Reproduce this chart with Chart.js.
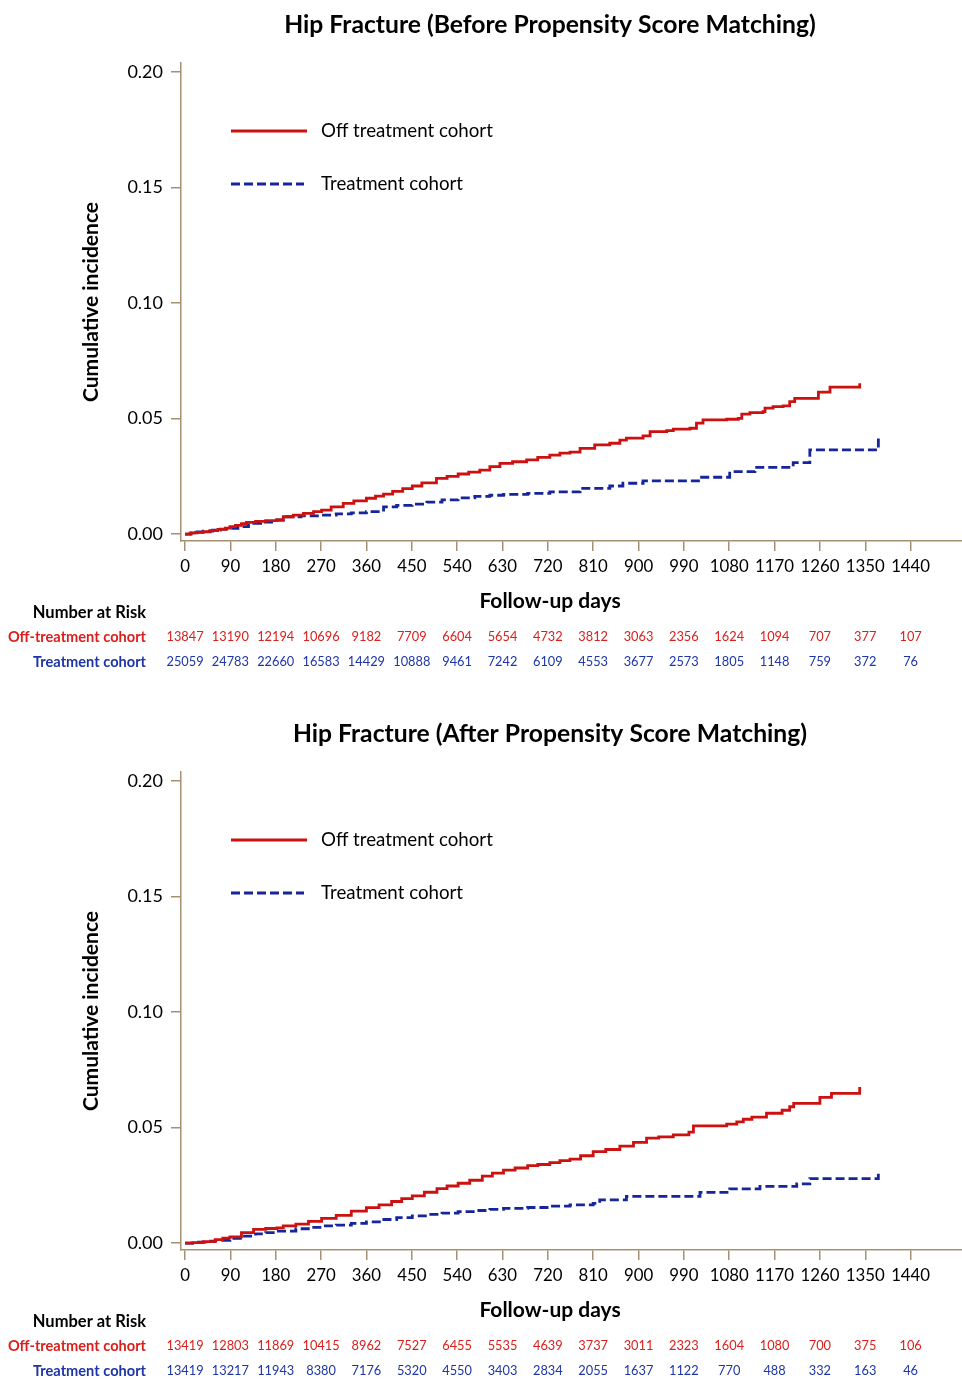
<!DOCTYPE html>
<html><head><meta charset="utf-8">
<script src="https://cdn.jsdelivr.net/npm/chart.js@4.4.0/dist/chart.umd.min.js"></script>
<style>
html,body{margin:0;padding:0;background:#fff;}
#wrap{position:relative;width:962px;height:1379px;background:#fff;}
.box{position:absolute;left:0;width:962px;height:670px;}
</style></head><body>
<div id="wrap">
<div class="box" style="top:0"><canvas id="c1"></canvas></div>
<div class="box" style="top:709px"><canvas id="c2"></canvas></div>
</div>
<script>
// ---------- data ----------
const dayTicks = [0,90,180,270,360,450,540,630,720,810,900,990,1080,1170,1260,1350,1440];
const yTicks = [0, 0.05, 0.10, 0.15, 0.20];
const seriesNames = ['Off treatment cohort', 'Treatment cohort'];
const riskRowLabels = ['Off-treatment cohort', 'Treatment cohort'];
const riskHeader = 'Number at Risk';
const xTitle = 'Follow-up days';
const yTitle = 'Cumulative incidence';
const titleBefore = 'Hip Fracture (Before Propensity Score Matching)';
const titleAfter = 'Hip Fracture (After Propensity Score Matching)';

// [day, cumulative incidence]
const offBefore = [[0,0],[10,0.0004],[20,0.0007],[36,0.0010],[50,0.0015],[65,0.0020],[80,0.0026],[89,0.0032],[100,0.0038],[112,0.0045],[122,0.0051],[140,0.0055],[160,0.0058],[182,0.0061],[195,0.0075],[215,0.0082],[235,0.0090],[255,0.0097],[271,0.0104],[290,0.0118],[314,0.0133],[335,0.0144],[360,0.0155],[378,0.0164],[394,0.0173],[412,0.0185],[432,0.0197],[451,0.0208],[470,0.0222],[499,0.0241],[520,0.0250],[542,0.0260],[563,0.0268],[585,0.0277],[605,0.0292],[625,0.0306],[650,0.0313],[678,0.0321],[700,0.0332],[724,0.0342],[744,0.0350],[764,0.0355],[784,0.0371],[813,0.0386],[843,0.0393],[863,0.0407],[876,0.0415],[909,0.0425],[923,0.0443],[956,0.0448],[969,0.0454],[1002,0.0458],[1015,0.0480],[1028,0.0494],[1075,0.0497],[1098,0.0501],[1105,0.0519],[1121,0.0526],[1147,0.0530],[1151,0.0545],[1167,0.0552],[1187,0.0555],[1200,0.0573],[1210,0.0587],[1257,0.0614],[1280,0.0636],[1339,0.0636],[1339,0.0653]];
const onBefore = [[0,0],[12,0.0005],[24,0.0009],[36,0.0013],[55,0.0017],[70,0.0021],[89,0.0025],[105,0.0032],[126,0.0046],[150,0.0052],[182,0.0061],[195,0.0075],[230,0.0079],[271,0.0082],[300,0.0087],[330,0.0092],[360,0.0097],[394,0.0118],[420,0.0124],[451,0.0130],[480,0.0138],[510,0.0148],[542,0.0157],[575,0.0163],[605,0.0168],[632,0.0172],[680,0.0176],[724,0.0183],[784,0.0198],[843,0.0208],[869,0.0220],[909,0.0230],[1022,0.0246],[1081,0.0270],[1131,0.0289],[1207,0.0309],[1240,0.0364],[1376,0.0364],[1376,0.0422]];
const offAfter = [[0,0],[15,0.0002],[36,0.0006],[60,0.0015],[75,0.0021],[89,0.0027],[112,0.0045],[136,0.0059],[160,0.0063],[182,0.0066],[195,0.0074],[220,0.0082],[245,0.0094],[271,0.0107],[300,0.0120],[330,0.0138],[360,0.0153],[385,0.0165],[410,0.0180],[430,0.0192],[451,0.0204],[475,0.0220],[500,0.0236],[520,0.0247],[542,0.0259],[565,0.0272],[590,0.0290],[610,0.0303],[632,0.0316],[655,0.0325],[680,0.0335],[700,0.0340],[724,0.0348],[744,0.0357],[764,0.0363],[785,0.0378],[810,0.0396],[835,0.0405],[863,0.0420],[890,0.0436],[916,0.0454],[940,0.0460],[969,0.0468],[1000,0.0480],[1009,0.0507],[1075,0.0515],[1095,0.0525],[1108,0.0536],[1125,0.0545],[1154,0.0562],[1185,0.0575],[1200,0.0590],[1208,0.0605],[1260,0.0631],[1283,0.0648],[1339,0.0648],[1339,0.0675]];
const onAfter = [[0,0],[20,0.0004],[40,0.0008],[60,0.0012],[89,0.0020],[110,0.0030],[140,0.0040],[160,0.0045],[182,0.0052],[220,0.0062],[250,0.0068],[271,0.0074],[300,0.0078],[330,0.0085],[360,0.0092],[390,0.0102],[420,0.0110],[451,0.0118],[480,0.0124],[510,0.0130],[542,0.0136],[575,0.0141],[605,0.0146],[632,0.0150],[680,0.0154],[724,0.0160],[764,0.0165],[810,0.0172],[823,0.0187],[876,0.0202],[1022,0.0219],[1081,0.0235],[1141,0.0245],[1214,0.0256],[1240,0.0279],[1376,0.0279],[1376,0.0300]];

const riskOffBefore = [13847,13190,12194,10696,9182,7709,6604,5654,4732,3812,3063,2356,1624,1094,707,377,107];
const riskOnBefore  = [25059,24783,22660,16583,14429,10888,9461,7242,6109,4553,3677,2573,1805,1148,759,372,76];
const riskOffAfter  = [13419,12803,11869,10415,8962,7527,6455,5535,4639,3737,3011,2323,1604,1080,700,375,106];
const riskOnAfter   = [13419,13217,11943,8380,7176,5320,4550,3403,2834,2055,1637,1122,770,488,332,163,46];

// ---------- style ----------
const FONT = 'Lato, "Open Sans", sans-serif';
const RED = '#cc1111';
const BLUE = '#16259a';
const RED_TXT = '#d9201c';
const BLUE_TXT = '#1d35a6';
const TAN = '#a39172';

function decorPlugin(cfg) {
  return {
    id: 'decor',
    afterDraw(chart) {
      const ctx = chart.ctx;
      const xs = chart.scales.x;
      const ds = chart.data.datasets;
      ctx.save();
      ctx.textBaseline = 'middle';
      ctx.fillStyle = '#000';
      // chart title
      ctx.textAlign = 'center';
      ctx.font = 'bold 24.7px ' + FONT;
      ctx.fillText(cfg.title, 550, 25);
      // x-axis title
      ctx.font = 'bold 21px ' + FONT;
      ctx.fillText(xTitle, 550, 601);
      // legend
      const legY = [131, 184];
      ds.forEach((d, i) => {
        ctx.save();
        ctx.strokeStyle = d.borderColor;
        ctx.lineWidth = d.borderWidth;
        ctx.setLineDash(d.borderDash || []);
        ctx.beginPath();
        ctx.moveTo(231, legY[i]);
        ctx.lineTo(i === 0 ? 307 : 304, legY[i]);
        ctx.stroke();
        ctx.restore();
        ctx.fillStyle = '#000';
        ctx.textAlign = 'left';
        ctx.font = '18.7px ' + FONT;
        ctx.fillText(d.label, 321, legY[i]);
      });
      // number at risk table
      ctx.textAlign = 'right';
      ctx.font = 'bold 16.5px ' + FONT;
      ctx.fillStyle = '#000';
      ctx.fillText(riskHeader, 146, 613);
      ctx.font = 'bold 14.6px ' + FONT;
      ctx.fillStyle = RED_TXT;
      ctx.fillText(riskRowLabels[0], 146, 637);
      ctx.fillStyle = BLUE_TXT;
      ctx.fillText(riskRowLabels[1], 146, 662);
      ctx.textAlign = 'center';
      ctx.font = '12.8px ' + FONT;
      dayTicks.forEach((d, i) => {
        const px = xs.getPixelForValue(d);
        ctx.fillStyle = RED_TXT;
        ctx.fillText(String(cfg.riskOff[i]), px, 637);
        ctx.fillStyle = BLUE_TXT;
        ctx.fillText(String(cfg.riskOn[i]), px, 662);
      });
      ctx.restore();
    }
  };
}

function axisCommon() {
  return {
    grid: { display: true, drawOnChartArea: false, drawTicks: true, tickLength: 10, color: TAN, lineWidth: 1.5 },
    border: { display: true, color: TAN, width: 1.5 }
  };
}

function makeChart(id, cfg) {
  const toPts = arr => arr.map(([d, v]) => ({ x: d, y: v }));
  return new Chart(document.getElementById(id), {
    type: 'line',
    data: {
      datasets: [
        { label: seriesNames[0], data: toPts(cfg.off), borderColor: RED, backgroundColor: RED, borderWidth: 2.8, pointRadius: 0, stepped: true, fill: false },
        { label: seriesNames[1], data: toPts(cfg.on), borderColor: BLUE, backgroundColor: BLUE, borderWidth: 2.8, borderDash: [9, 4], pointRadius: 0, stepped: true, fill: false }
      ]
    },
    options: {
      responsive: true,
      maintainAspectRatio: false,
      animation: false,
      layout: { padding: { top: 63, left: 0, right: 0, bottom: 0 } },
      plugins: { legend: { display: false }, tooltip: { enabled: false }, title: { display: false } },
      scales: {
        x: Object.assign(axisCommon(), {
          type: 'linear', min: -8, max: 1542,
          afterBuildTicks: s => { s.ticks = dayTicks.map(v => ({ value: v })); },
          afterFit: s => { s.height = 129; },
          ticks: { color: '#000', font: { family: FONT, size: 16.8 }, padding: 6, maxRotation: 0, autoSkip: false, callback: v => String(v) }
        }),
        y: Object.assign(axisCommon(), {
          type: 'linear', min: -0.003, max: 0.2039,
          afterBuildTicks: s => { s.ticks = yTicks.map(v => ({ value: v })); },
          afterFit: s => { s.width = 181; },
          ticks: { color: '#000', font: { family: FONT, size: 18 }, padding: 8, callback: v => Number(v).toFixed(2) },
          title: { display: true, text: yTitle, color: '#000', font: { family: FONT, size: 21, weight: 'bold' }, padding: { top: 79, bottom: 0 } }
        })
      }
    },
    plugins: [decorPlugin(cfg)]
  });
}

makeChart('c1', { title: titleBefore, off: offBefore, on: onBefore, riskOff: riskOffBefore, riskOn: riskOnBefore });
makeChart('c2', { title: titleAfter, off: offAfter, on: onAfter, riskOff: riskOffAfter, riskOn: riskOnAfter });
</script>
</body></html>
